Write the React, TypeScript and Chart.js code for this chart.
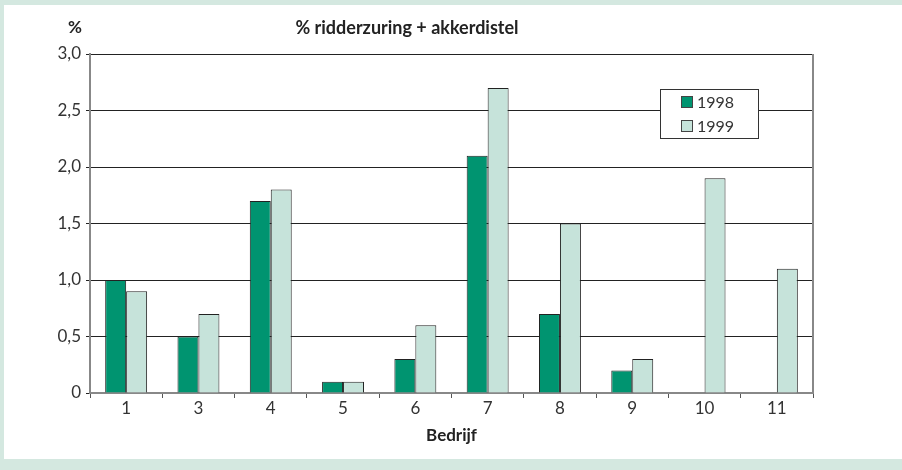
import React, { useEffect, useRef } from "react";
import { Chart, registerables } from "chart.js";

Chart.register(...registerables);

const categories = ["1", "3", "4", "5", "6", "7", "8", "9", "10", "11"];
const values1998: (number | null)[] = [1.0, 0.5, 1.7, 0.1, 0.3, 2.1, 0.7, 0.2, null, null];
const values1999: (number | null)[] = [0.9, 0.7, 1.8, 0.1, 0.6, 2.7, 1.5, 0.3, 1.9, 1.1];
const seriesLabels = ["1998", "1999"];
const seriesColors = ["#009470", "#c6e3da"];
const chartTitle = "% ridderzuring + akkerdistel";
const yUnit = "%";
const xTitle = "Bedrijf";

const FONT = "Lato, 'Open Sans', sans-serif";

const framePlugin = {
  id: "frame",
  beforeDraw(chart: any) {
    const { ctx, width, height } = chart;
    ctx.save();
    ctx.fillStyle = "#d4e8e0";
    ctx.fillRect(0, 0, width, height);
    ctx.fillStyle = "#ffffff";
    ctx.fillRect(4, 5, width - 4, 454);
    ctx.restore();
  },
  afterDatasetsDraw(chart: any) {
    const { ctx, chartArea } = chart;
    ctx.save();
    ctx.strokeStyle = "#888888";
    ctx.lineWidth = 2;
    ctx.beginPath();
    ctx.moveTo(chartArea.right, chartArea.top);
    ctx.lineTo(chartArea.right, chartArea.bottom);
    ctx.stroke();
    ctx.fillStyle = "#222222";
    ctx.font = `bold 18px ${FONT}`;
    ctx.textBaseline = "middle";
    ctx.textAlign = "center";
    ctx.fillText(chartTitle, 407, 28);
    ctx.font = `bold 17px ${FONT}`;
    ctx.fillText(yUnit, 75, 28);
    const lx = 660, ly = 89, lw = 98, lh = 49;
    ctx.fillStyle = "#ffffff";
    ctx.fillRect(lx, ly, lw, lh);
    ctx.strokeStyle = "#333333";
    ctx.lineWidth = 1;
    ctx.strokeRect(lx + 0.5, ly + 0.5, lw, lh);
    chart.data.datasets.forEach((ds: any, i: number) => {
      const y = ly + 13 + i * 24;
      ctx.fillStyle = ds.backgroundColor;
      ctx.fillRect(681, y - 6, 12, 12);
      ctx.strokeStyle = "#444444";
      ctx.strokeRect(681.5, y - 5.5, 11, 11);
      ctx.fillStyle = "#333333";
      ctx.font = `16px ${FONT}`;
      ctx.textAlign = "left";
      ctx.fillText(ds.label, 697, y + 1);
    });
    ctx.restore();
  },
};

export default function App() {
  const ref = useRef<HTMLCanvasElement>(null);
  useEffect(() => {
    document.body.style.margin = "0";
    const chart = new Chart(ref.current!, {
      type: "bar",
      data: {
        labels: categories,
        datasets: [
          {
            label: seriesLabels[0],
            data: values1998,
            backgroundColor: seriesColors[0],
            borderColor: "#222222",
            borderWidth: 1,
            categoryPercentage: 0.58,
            barPercentage: 1,
          },
          {
            label: seriesLabels[1],
            data: values1999,
            backgroundColor: seriesColors[1],
            borderColor: "#222222",
            borderWidth: 1,
            categoryPercentage: 0.58,
            barPercentage: 1,
          },
        ],
      },
      options: {
        animation: false,
        responsive: false,
        maintainAspectRatio: false,
        layout: { padding: { left: 0, right: 89, top: 54, bottom: 24 } },
        plugins: {
          legend: { display: false },
          title: { display: false },
          tooltip: { enabled: false },
        },
        scales: {
          x: {
            afterFit(scale: any) {
              scale.height = 53;
            },
            grid: {
              offset: true,
              drawOnChartArea: false,
              drawTicks: true,
              tickLength: 5,
              color: "#555555",
            },
            border: { color: "#888888", width: 2 },
            ticks: {
              color: "#333333",
              font: { family: FONT, size: 17 },
              padding: 0,
            },
            title: {
              display: true,
              text: xTitle,
              color: "#222222",
              font: { family: FONT, size: 17, weight: "bold" },
              padding: { top: 8, bottom: 0 },
            },
          },
          y: {
            min: 0,
            max: 3,
            afterFit(scale: any) {
              scale.width = 90;
            },
            ticks: {
              stepSize: 0.5,
              color: "#333333",
              font: { family: FONT, size: 17 },
              padding: 5,
              callback: (v: any) => (Number(v) === 0 ? "0" : Number(v).toFixed(1).replace(".", ",")),
            },
            grid: {
              color: "#222222",
              lineWidth: 1,
              tickLength: 4,
            },
            border: { color: "#888888", width: 2 },
          },
        },
      },
      plugins: [framePlugin],
    });
    return () => chart.destroy();
  }, []);
  return (
    <div style={{ position: "absolute", left: 0, top: 0, width: 902, height: 470 }}>
      <canvas ref={ref} width={902} height={470} style={{ width: 902, height: 470, display: "block" }} />
    </div>
  );
}
